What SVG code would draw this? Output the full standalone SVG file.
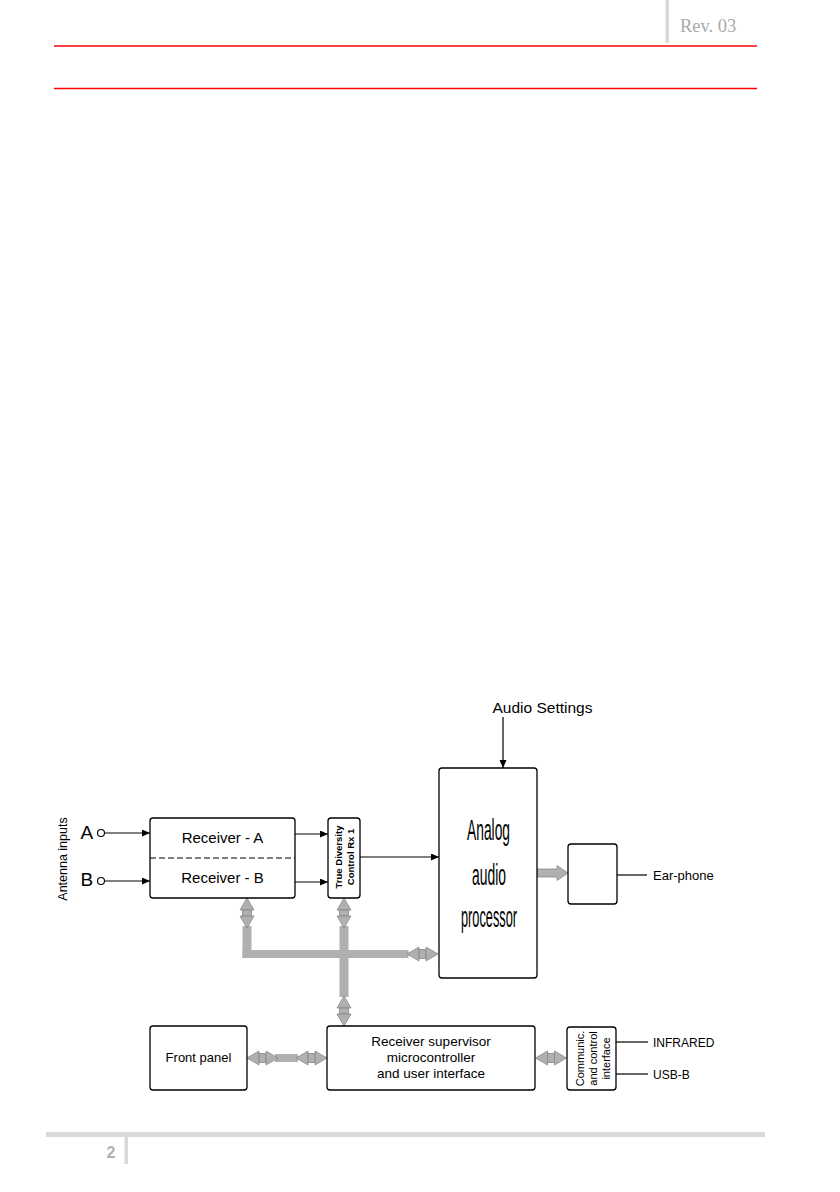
<svg xmlns="http://www.w3.org/2000/svg" xmlns:xlink="http://www.w3.org/1999/xlink" width="840" height="1192" viewBox="0 0 840 1192">
<style>
.box{fill:#fff;stroke:#000;stroke-width:1.3}
.t{font-family:"Liberation Sans",Arial,sans-serif;fill:#000}
.ln{stroke:#000;stroke-width:1.2;fill:none}
.bar{fill:#b0b0b0}
.ah{fill:#b0b0b0;stroke:#888;stroke-width:0.8}
.red{stroke:#ff0000;stroke-width:1.4}
.hdr{fill:#d9d9d9}
</style>
<defs>
<marker id="arr" markerUnits="userSpaceOnUse" markerWidth="9" markerHeight="8" refX="8" refY="3.5" orient="auto">
<path d="M0,0 L8,3.5 L0,7 z" fill="#000"/>
</marker>
<g id="dblV">
<path class="ah" d="M0,0 L7,12 L-7,12 z"/>
<rect class="ah" x="-4.5" y="12" width="9" height="6"/>
<path class="ah" d="M-7,18 L7,18 L0,30 z"/>
</g>
<g id="dblH">
<path class="ah" d="M0,0 L12,-7 L12,7 z"/>
<rect class="ah" x="12" y="-4.5" width="7" height="9"/>
<path class="ah" d="M19,-7 L31,0 L19,7 z"/>
</g>
</defs>

<g id="page">
<rect class="hdr" x="665.5" y="0" width="3.5" height="43"/>
<text x="680" y="32" font-family="'Liberation Serif',serif" font-size="18.5" fill="#aaaaaa">Rev. 03</text>
<line class="red" x1="54" y1="46" x2="757" y2="46"/>
<line class="red" x1="54" y1="88.5" x2="757" y2="88.5"/>
<rect class="hdr" x="46" y="1132" width="719" height="5"/>
<rect class="hdr" x="124.5" y="1134" width="3.5" height="30"/>
<text x="111" y="1158" font-family="'Liberation Sans',sans-serif" font-size="16" font-weight="bold" fill="#b0b0b0" text-anchor="middle">2</text>
</g>

<g id="connectors">
<circle cx="101" cy="833" r="3.5" fill="#fff" stroke="#000" stroke-width="1.1"/>
<circle cx="101" cy="881" r="3.5" fill="#fff" stroke="#000" stroke-width="1.1"/>
<line class="ln" x1="104.5" y1="833" x2="150" y2="833" marker-end="url(#arr)"/>
<line class="ln" x1="104.5" y1="881" x2="150" y2="881" marker-end="url(#arr)"/>
<line class="ln" x1="295" y1="834" x2="328" y2="834" marker-end="url(#arr)"/>
<line class="ln" x1="295" y1="882" x2="328" y2="882" marker-end="url(#arr)"/>
<line class="ln" x1="360" y1="857" x2="439" y2="857" marker-end="url(#arr)"/>
<line class="ln" x1="503" y1="717" x2="503" y2="768" marker-end="url(#arr)"/>
<line class="ln" x1="617" y1="875" x2="647" y2="875"/>
<line class="ln" x1="616" y1="1042" x2="648" y2="1042"/>
<line class="ln" x1="616" y1="1074" x2="648" y2="1074"/>
<!-- gray bus -->
<rect class="bar" x="242.5" y="926" width="9" height="32"/>
<rect class="bar" x="242.5" y="950" width="166" height="8"/>
<rect class="bar" x="339.5" y="926" width="9" height="71"/>
<rect class="bar" x="275" y="1054" width="23" height="8"/>
<use xlink:href="#dblV" x="247" y="898"/>
<use xlink:href="#dblV" x="344" y="898"/>
<use xlink:href="#dblV" x="344" y="996"/>
<use xlink:href="#dblH" x="407" y="954"/>
<use xlink:href="#dblH" x="247" y="1058"/>
<use xlink:href="#dblH" x="296" y="1058"/>
<use xlink:href="#dblH" x="535.5" y="1058"/>
<path class="ah" d="M537,869 L557,869 L557,865.5 L568,873 L557,880.5 L557,877 L537,877 z"/>
</g>

<g id="antenna">
<text class="t" font-size="12.5" text-anchor="middle" dominant-baseline="central" transform="translate(63,859) rotate(-90)">Antenna inputs</text>
<text class="t" x="80.5" y="838.5" font-size="19">A</text>
<text class="t" x="80.5" y="886" font-size="19">B</text>
</g>

<g id="receiver">
<rect class="box" x="150" y="818" width="145" height="80" rx="3"/>
<line x1="150" y1="858" x2="295" y2="858" stroke="#000" stroke-width="1.2" stroke-dasharray="6,3"/>
<text class="t" x="222.5" y="843" font-size="15" text-anchor="middle">Receiver - A</text>
<text class="t" x="222.5" y="883" font-size="15" text-anchor="middle">Receiver - B</text>
</g>

<g id="diversity">
<rect class="box" x="328" y="818" width="32" height="80" rx="3"/>
<text class="t" font-size="9.5" font-weight="bold" text-anchor="middle" dominant-baseline="central" transform="translate(338.5,857) rotate(-90)">True Diversity</text>
<text class="t" font-size="9.5" font-weight="bold" text-anchor="middle" dominant-baseline="central" transform="translate(350,857) rotate(-90)">Control Rx 1</text>
</g>

<g id="audio-settings">
<text class="t" x="542.5" y="713" font-size="15.5" text-anchor="middle">Audio Settings</text>
</g>

<g id="analog">
<rect class="box" x="439" y="768" width="98" height="210" rx="3"/>
<text class="t" x="488.5" y="840" font-size="30" text-anchor="middle" textLength="43" lengthAdjust="spacingAndGlyphs">Analog</text>
<text class="t" x="489" y="885" font-size="30" text-anchor="middle" textLength="34" lengthAdjust="spacingAndGlyphs">audio</text>
<text class="t" x="489" y="927" font-size="30" text-anchor="middle" textLength="56" lengthAdjust="spacingAndGlyphs">processor</text>
</g>

<g id="amp">
<rect class="box" x="568" y="844" width="49" height="60" rx="3"/>
</g>

<g id="earphone">
<text class="t" x="653" y="879.5" font-size="13">Ear-phone</text>
</g>

<g id="front-panel">
<rect class="box" x="150" y="1026" width="97" height="64" rx="3"/>
<text class="t" x="198.5" y="1062" font-size="13" text-anchor="middle">Front panel</text>
</g>

<g id="supervisor">
<rect class="box" x="327" y="1026" width="208" height="64" rx="3"/>
<text class="t" x="431" y="1046" font-size="13.5" text-anchor="middle">Receiver supervisor</text>
<text class="t" x="431" y="1062" font-size="13.5" text-anchor="middle">microcontroller</text>
<text class="t" x="431" y="1078" font-size="13.5" text-anchor="middle">and user interface</text>
</g>

<g id="comm">
<rect class="box" x="567" y="1027" width="49" height="63" rx="3"/>
<text class="t" font-size="11" text-anchor="middle" dominant-baseline="central" transform="translate(579.5,1058.5) rotate(-90)">Communic.</text>
<text class="t" font-size="11" text-anchor="middle" dominant-baseline="central" transform="translate(593,1058.5) rotate(-90)">and control</text>
<text class="t" font-size="11" text-anchor="middle" dominant-baseline="central" transform="translate(606,1058.5) rotate(-90)">interface</text>
</g>

<g id="ports">
<text class="t" x="653" y="1047" font-size="12">INFRARED</text>
<text class="t" x="653" y="1079" font-size="12">USB-B</text>
</g>
</svg>
